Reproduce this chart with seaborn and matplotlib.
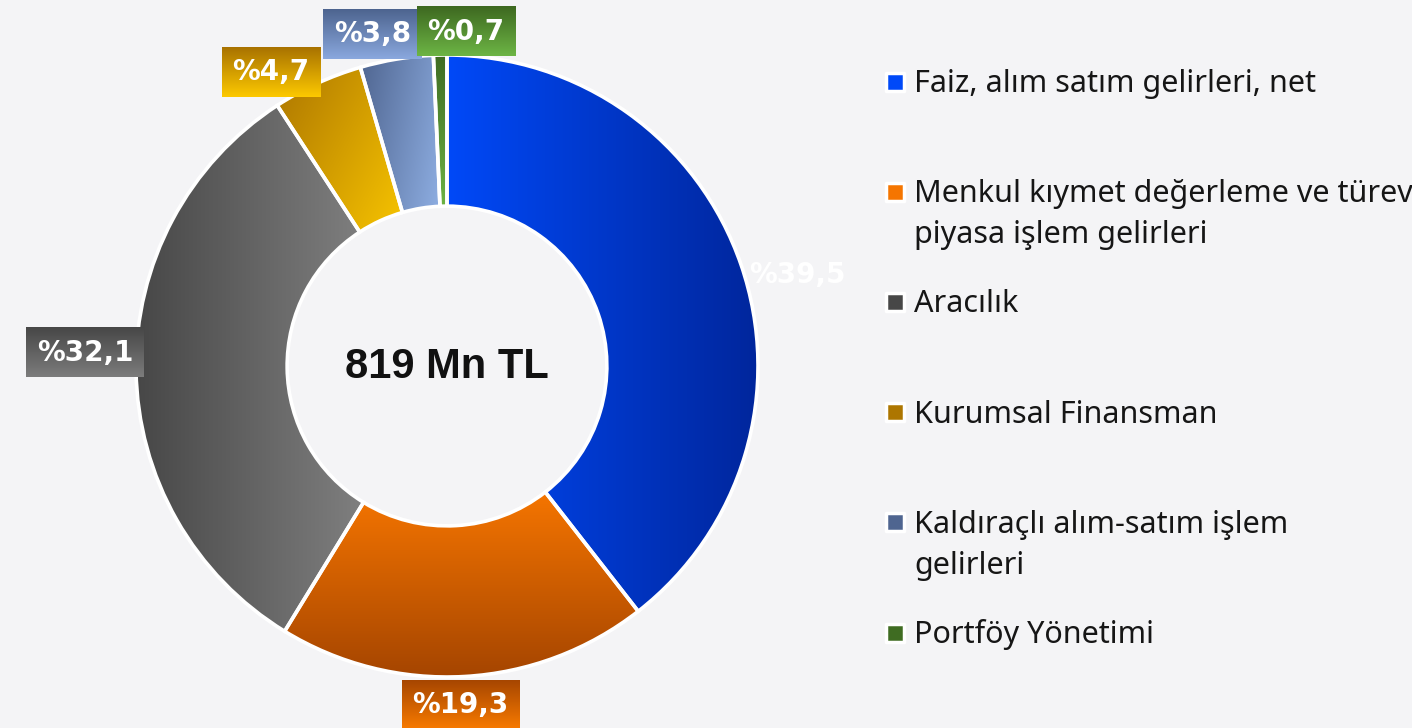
import numpy as np
import matplotlib.pyplot as plt
import seaborn as sns

# data
categories = [
    "Faiz, alım satım gelirleri, net",
    "Menkul kıymet değerleme ve türev\npiyasa işlem gelirleri",
    "Aracılık",
    "Kurumsal Finansman",
    "Kaldıraçlı alım-satım işlem\ngelirleri",
    "Portföy Yönetimi",
]
shares = [39.5, 19.3, 32.1, 4.7, 3.8, 0.7]
pct_labels = ["%39,5", "%19,3", "%32,1", "%4,7", "%3,8", "%0,7"]
total_label = "819 Mn TL"

# styling: wedge gradient (from, to, direction in degrees)
wedge_grad = [
    ("#0049f8", "#00269c", 0),
    ("#f57500", "#a54500", -90),
    ("#474747", "#7f7f7f", 0),
    ("#ad7600", "#f7c400", -35),
    ("#4f6590", "#8eaee2", -20),
    ("#3f6c22", "#6cb244", -90),
]
# label box gradient (top, bottom); None -> no box
box_grad = [
    None,
    ("#a64600", "#f97b00"),
    ("#474747", "#7c7c7c"),
    ("#a87200", "#fdc900"),
    ("#4d648f", "#8aa8de"),
    ("#3d6820", "#6db545"),
]
# label placement: (angle shift in deg, radius)
label_pos = [(-4.4, 1.163), (-1.0, 1.091), (-2.9, 1.165),
             (6.3, 1.102), (3.35, 1.093), (-4.5, 1.077)]

bg = "#f4f4f6"
W, H = 1412, 728
cx, cy, R = 447, 366, 311  # pixel geometry of the donut

sns.set_theme(style="white")
plt.rcParams["font.family"] = ["DejaVu Sans"]

fig = plt.figure(figsize=(W / 100, H / 100), dpi=100, facecolor=bg)
ax = fig.add_axes([0, 0, 1, 1])
ax.set_facecolor(bg)


def gradient_image(ax, extent, c0, c1, angle, zorder):
    n = 256
    xx, yy = np.meshgrid(np.linspace(0, 1, n), np.linspace(0, 1, n))
    a = np.deg2rad(angle)
    t = xx * np.cos(a) + yy * np.sin(a)
    t = (t - t.min()) / (t.max() - t.min())
    cmap = sns.blend_palette([c0, c1], n_colors=256, as_cmap=True)
    return ax.imshow(t, cmap=cmap, extent=extent, origin="lower", aspect="auto",
                     interpolation="bilinear", zorder=zorder)


wedges, _ = ax.pie(shares, startangle=90, counterclock=False, radius=1,
                   wedgeprops=dict(width=0.486, edgecolor="white", linewidth=2.6))

for w, (c0, c1, ang) in zip(wedges, wedge_grad):
    bb = w.get_path().get_extents()
    im = gradient_image(ax, (bb.x0, bb.x1, bb.y0, bb.y1), c0, c1, ang, 2)
    im.set_clip_path(w)
    w.set_facecolor("none")
    w.set_zorder(3)

ax.text(0, (cy - 378) / R, total_label, ha="center", va="baseline",
        fontsize=30, fontweight="bold", family="Liberation Sans", color="#111111", zorder=6)

texts = []
for w, lab, (dang, r), bx in zip(wedges, pct_labels, label_pos, box_grad):
    mid = np.deg2rad((w.theta1 + w.theta2) / 2 + dang)
    t = ax.text(r * np.cos(mid), r * np.sin(mid), lab, ha="center", va="center",
                fontsize=20, fontweight="bold", color="white", zorder=6,
                bbox=dict(boxstyle="square,pad=0.38", fc="none", ec="none"))
    texts.append(t)

ax.set_xlim(-cx / R, (W - cx) / R)
ax.set_ylim((cy - H) / R, cy / R)
ax.set_aspect("auto")
ax.axis("off")

fig.canvas.draw()
renderer = fig.canvas.get_renderer()
inv = ax.transData.inverted()
for t, bx in zip(texts, box_grad):
    if bx is None:
        continue
    ext = t.get_bbox_patch().get_window_extent(renderer)
    (x0, y0), (x1, y1) = inv.transform([[ext.x0, ext.y0], [ext.x1, ext.y1]])
    gradient_image(ax, (x0, x1, y0, y1), bx[1], bx[0], 90, 5)

# legend drawn by hand so every entry keeps the same spacing
legend_cols = [g[0] for g in wedge_grad]
for i, (lab, col) in enumerate(zip(categories, legend_cols)):
    base = 92 + 110.2 * i
    ax.scatter([(895 - cx) / R], [(cy - base + 10.5) / R], marker="s", s=175,
               color=col, edgecolor="white", linewidth=2.5, zorder=6)
    for j, line in enumerate(lab.split("\n")):
        ax.text((914 - cx) / R, (cy - base - 41 * j) / R, line, ha="left", va="baseline",
                fontsize=22, family="Noto Sans", color="#161616", zorder=6)

ax.set_xlim(-cx / R, (W - cx) / R)
ax.set_ylim((cy - H) / R, cy / R)

fig.savefig("out.png", dpi=100, facecolor=bg)
